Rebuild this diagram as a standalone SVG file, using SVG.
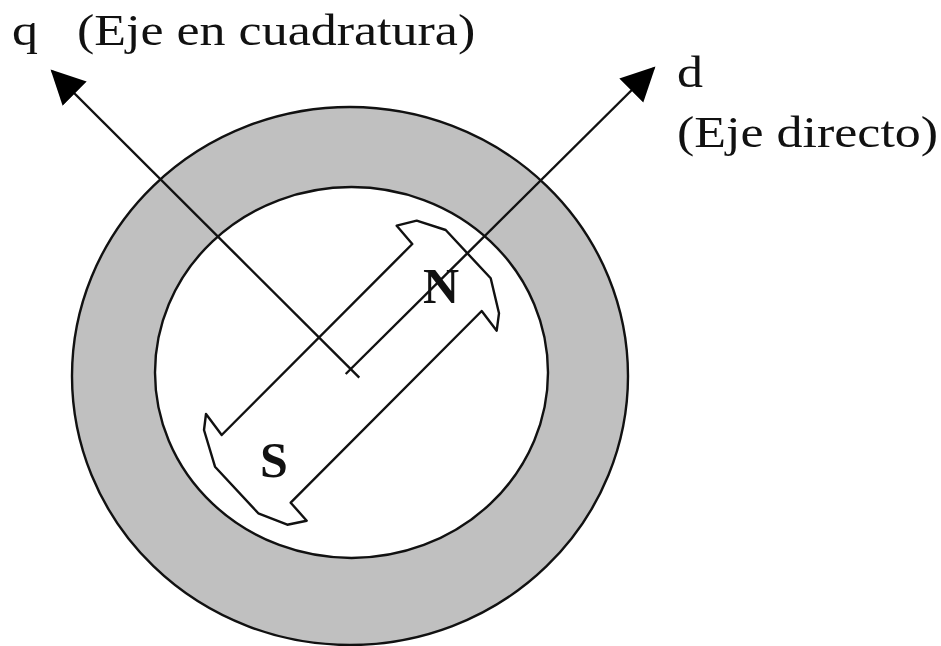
<svg xmlns="http://www.w3.org/2000/svg" width="941" height="646" viewBox="0 0 941 646">
<style>
.l{fill:none;stroke:#111;stroke-width:2.4;stroke-linejoin:round}
.t{font-family:"Liberation Serif",serif;font-size:45px;fill:#111}
.b{font-family:"Liberation Serif",serif;font-size:50px;font-weight:bold;fill:#111}
</style>
<defs><marker id="a" markerUnits="userSpaceOnUse" markerWidth="40" markerHeight="40" refX="32" refY="17" orient="auto"><path d="M0 0L34 17L0 34z" fill="#000"/></marker></defs>
<rect width="941" height="646" fill="#fff"/>
<g id="stator"><ellipse cx="350" cy="376" rx="278" ry="269" fill="#c0c0c0" stroke="#111" stroke-width="2.4"/></g>
<g id="bore"><ellipse cx="351.5" cy="372.5" rx="196.5" ry="185.5" fill="#fff" stroke="#111" stroke-width="2.4"/></g>
<g id="rotor"><path class="l" d="M396.7 225.7L416.7 220.7L445.7 230L490.7 278.3L499 313.3L496.7 330.7L481.7 311L290.7 502.7L306.7 520.7L287.3 524.7L258.3 513.3L215 466.7L204 430L206 414L221.7 435L412.3 244z"/></g>
<g id="connectors">
<path class="l" d="M359.3 377.7L52 71" marker-end="url(#a)"/>
<path class="l" d="M345.7 374L654 68" marker-end="url(#a)"/>
</g>
<g id="labels">
<text class="t" transform="translate(12 45) scale(1.155 1)">q</text>
<text class="t" transform="translate(77 45) scale(1.155 1)">(Eje en cuadratura)</text>
<text class="t" transform="translate(677 87) scale(1.155 1)">d</text>
<text class="t" transform="translate(677 147) scale(1.155 1)">(Eje directo)</text>
<text class="b" x="423" y="303">N</text>
<text class="b" x="260" y="477">S</text>
</g>
</svg>
